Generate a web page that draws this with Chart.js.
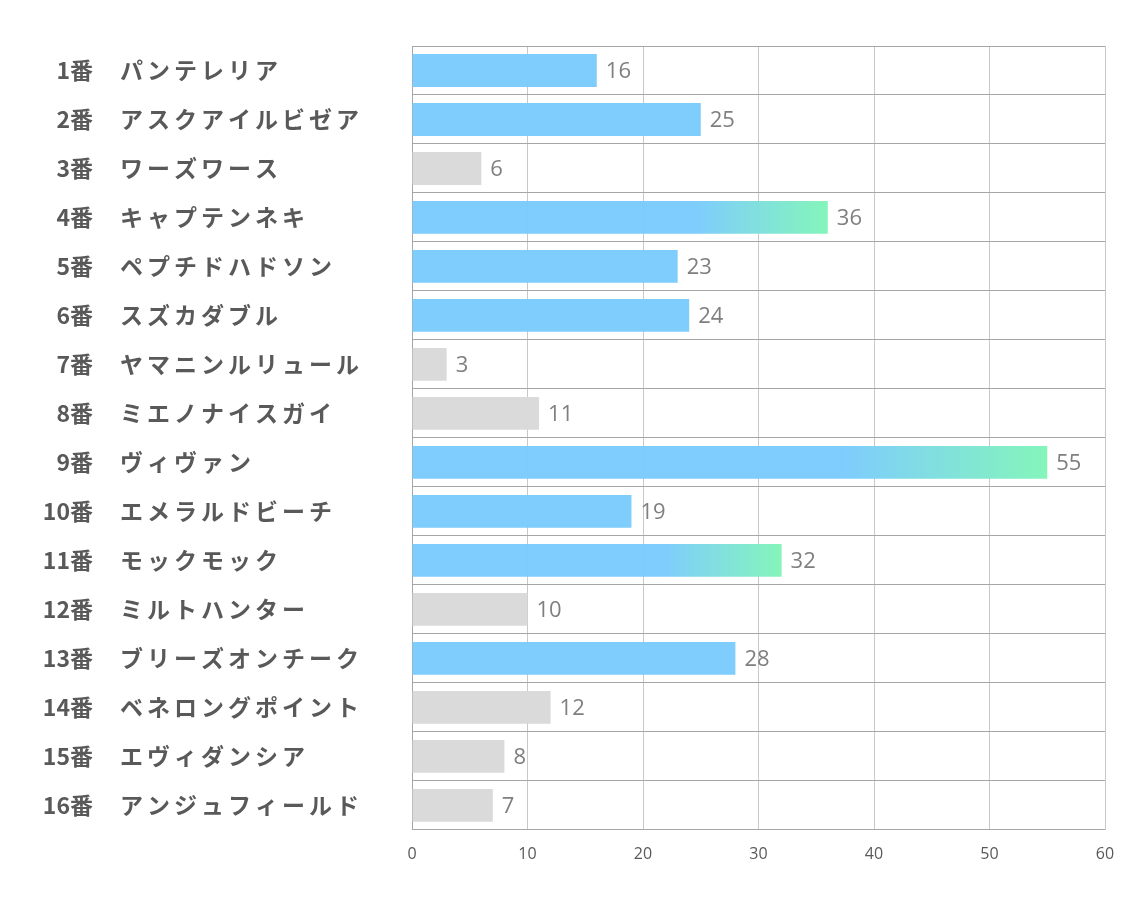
<!DOCTYPE html>
<html>
<head>
<meta charset="utf-8">
<script src="https://cdn.jsdelivr.net/npm/chart.js@4.4.0/dist/chart.umd.min.js"></script>
<style>
  body{margin:0;background:#fff;}
  #wrap{width:1134px;height:907px;}
</style>
</head>
<body>
<div id="wrap"><canvas id="grafico" width="1134" height="907"></canvas></div>
<script>
const numeros = ['1番','2番','3番','4番','5番','6番','7番','8番','9番','10番','11番','12番','13番','14番','15番','16番'];
const nombres = ['パンテレリア','アスクアイルビゼア','ワーズワース','キャプテンネキ','ペプチドハドソン','スズカダブル','ヤマニンルリュール','ミエノナイスガイ','ヴィヴァン','エメラルドビーチ','モックモック','ミルトハンター','ブリーズオンチーク','ベネロングポイント','エヴィダンシア','アンジュフィールド'];
const valores = [16,25,6,36,23,24,3,11,55,19,32,10,28,12,8,7];
// b = azul, g = degradado, x = gris
const tipos = ['b','b','x','g','b','b','x','x','g','b','g','x','b','x','x','x'];
const ticksX = [0,10,20,30,40,50,60];

const AZUL = 'rgba(122,203,253,0.97)';
const VERDE = 'rgba(128,245,184,0.97)';
const GRIS = 'rgba(217,217,217,0.97)';
const FUENTE = '"Noto Sans CJK JP", "Noto Sans", sans-serif';

// etiquetas de la izquierda (numero + nombre)
const etiquetasPlugin = {
  id: 'etiquetas',
  afterDraw(chart){
    const ctx = chart.ctx;
    const y = chart.scales.y;
    ctx.save();
    ctx.fillStyle = '#595959';
    ctx.font = 'bold 23px ' + FUENTE;
    ctx.textBaseline = 'middle';
    numeros.forEach((n,i)=>{
      const py = y.getPixelForValue(i);
      ctx.letterSpacing = '0px';
      ctx.textAlign = 'right';
      ctx.fillText(n, 93, py);
      ctx.letterSpacing = '4px';
      ctx.textAlign = 'left';
      ctx.fillText(nombres[i], 120, py);
    });
    ctx.restore();
  }
};

// valor al final de cada barra
const valoresPlugin = {
  id: 'valores',
  afterDatasetsDraw(chart){
    const ctx = chart.ctx;
    const meta = chart.getDatasetMeta(0);
    ctx.save();
    ctx.fillStyle = '#7f7f7f';
    ctx.font = '22px "Open Sans", sans-serif';
    ctx.textAlign = 'left';
    ctx.textBaseline = 'middle';
    meta.data.forEach((bar,i)=>{
      ctx.fillText(valores[i], bar.x + 9, bar.y + 1);
    });
    ctx.restore();
  }
};

const ctx = document.getElementById('grafico').getContext('2d');
const grafico = new Chart(ctx, {
  type: 'bar',
  data: {
    labels: numeros,
    datasets: [{
      data: valores,
      backgroundColor: (c)=>{
        const i = c.dataIndex;
        if(tipos[i]==='x') return GRIS;
        if(tipos[i]==='b') return AZUL;
        const xs = c.chart.scales.x;
        if(!xs) return AZUL;
        const x0 = xs.getPixelForValue(0);
        const x1 = xs.getPixelForValue(valores[i]);
        const g = c.chart.ctx.createLinearGradient(x0,0,x1,0);
        g.addColorStop(0, AZUL);
        g.addColorStop(0.68, AZUL);
        g.addColorStop(1, VERDE);
        return g;
      },
      borderWidth: 0,
      barPercentage: 0.67,
      categoryPercentage: 1
    }]
  },
  options: {
    indexAxis: 'y',
    responsive: false,
    animation: false,
    layout: { padding: { left: 412, top: 46, right: 29, bottom: 28 } },
    plugins: {
      legend: { display: false },
      tooltip: { enabled: false }
    },
    scales: {
      x: {
        min: 0,
        max: 60,
        afterBuildTicks: (s)=>{ s.ticks = ticksX.map(v=>({value:v})); },
        grid: { color: '#c8c8c8', lineWidth: 1, drawTicks: false },
        border: { display: false },
        ticks: { color: '#595959', font: { size: 16, family: '"Open Sans", sans-serif' }, padding: 15 }
      },
      y: {
        offset: true,
        grid: { offset: true, color: '#a6a6a6', lineWidth: 1, drawTicks: false },
        border: { color: '#a6a6a6' },
        ticks: { display: false }
      }
    }
  },
  plugins: [etiquetasPlugin, valoresPlugin]
});
</script>
</body>
</html>
